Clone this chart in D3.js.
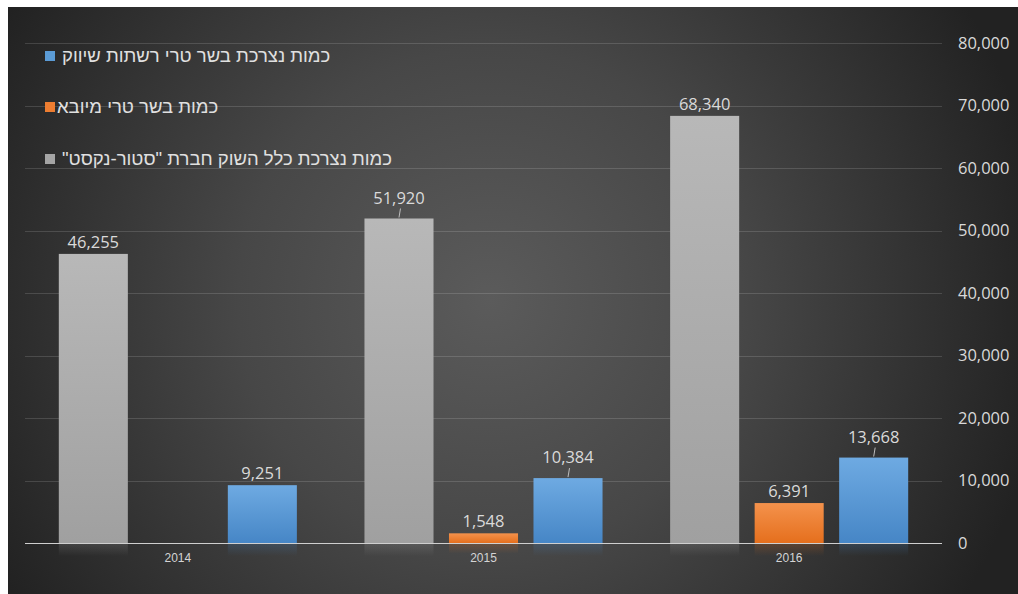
<!DOCTYPE html>
<html lang="he">
<head>
<meta charset="utf-8">
<script src="https://cdn.jsdelivr.net/npm/d3@7"></script>
<style>
  html, body { margin: 0; padding: 0; background: #ffffff; }
  svg { display: block; }
</style>
</head>
<body>
<svg id="chart" width="1018" height="594"></svg>
<script>
// Fresh meat consumption by year (tonnes)
const years = ["2014", "2015", "2016"];
const storeNextTotal = [46255, 51920, 68340];   // whole market, StoreNext
const importedMeat   = [null, 1548, 6391];      // imported fresh meat
const retailChains   = [9251, 10384, 13668];    // retail chains

const seriesNames = {
  chains:   "כמות נצרכת בשר טרי רשתות שיווק",
  imported: "כמות בשר טרי מיובא",
  total:    "כמות נצרכת כלל השוק חברת \"סטור-נקסט\""
};
const yTicks = [0, 10000, 20000, 30000, 40000, 50000, 60000, 70000, 80000];
// labels that sit a little higher with a short leader line
const leaderLabels = [["total", "2015"], ["chains", "2015"], ["chains", "2016"]];

const series = [
  { key: "total",    values: storeNextTotal, top: "#b8b8b8", bottom: "#a0a0a0", swatch: "#a5a5a5" },
  { key: "imported", values: importedMeat,   top: "#f4924c", bottom: "#e56f1d", swatch: "#ed7d31" },
  { key: "chains",   values: retailChains,   top: "#6eaae2", bottom: "#4686c6", swatch: "#5b9bd5" }
];

const W = 1018, H = 594;
const plot = { left: 25, right: 942, top: 43, bottom: 543 };
const svg = d3.select("#chart");
const defs = svg.append("defs");

// dark radial backdrop
const bg = defs.append("radialGradient").attr("id", "bg")
  .attr("gradientUnits", "userSpaceOnUse")
  .attr("cx", 490).attr("cy", 300).attr("r", 560);
bg.append("stop").attr("offset", "0%").attr("stop-color", "#5b5b5b");
bg.append("stop").attr("offset", "45%").attr("stop-color", "#474747");
bg.append("stop").attr("offset", "100%").attr("stop-color", "#222222");
svg.append("rect").attr("x", 8).attr("y", 7).attr("width", W - 8).attr("height", H - 7)
  .attr("fill", "url(#bg)");

series.forEach(s => {
  const g = defs.append("linearGradient").attr("id", "grad-" + s.key)
    .attr("x1", 0).attr("y1", 0).attr("x2", 0).attr("y2", 1);
  g.append("stop").attr("offset", "0%").attr("stop-color", s.top);
  g.append("stop").attr("offset", "100%").attr("stop-color", s.bottom);
  const r = defs.append("linearGradient").attr("id", "refl-" + s.key)
    .attr("x1", 0).attr("y1", 0).attr("x2", 0).attr("y2", 1);
  r.append("stop").attr("offset", "0%").attr("stop-color", s.bottom).attr("stop-opacity", 0.2);
  r.append("stop").attr("offset", "100%").attr("stop-color", s.bottom).attr("stop-opacity", 0);
});

const y = d3.scaleLinear().domain([0, 80000]).range([plot.bottom, plot.top]);
const x0 = d3.scaleBand().domain(years).range([plot.left, plot.right]).padding(0);
const x1 = d3.scaleBand().domain(series.map(s => s.key))
  .range([0, x0.bandwidth()]).paddingInner(0.183).paddingOuter(0.4);

// gridlines
svg.append("g").selectAll("line").data(yTicks.filter(t => t > 0)).join("line")
  .attr("x1", plot.left).attr("x2", plot.right)
  .attr("y1", d => Math.round(y(d)) + 0.5).attr("y2", d => Math.round(y(d)) + 0.5)
  .attr("stroke", "#ffffff").attr("stroke-opacity", 0.14).attr("stroke-width", 1);

// value axis on the right
const yAxis = svg.append("g")
  .attr("transform", `translate(${plot.right},0)`)
  .call(d3.axisRight(y).tickValues(yTicks).tickFormat(d3.format(",")).tickSize(0).tickPadding(16));
yAxis.select(".domain").remove();
yAxis.selectAll("text")
  .attr("fill", "#d9d9d9")
  .style("font-family", "'Open Sans', 'Noto Sans', sans-serif")
  .style("font-size", "16.5px");

// bars
const rows = [];
series.forEach(s => years.forEach((yr, i) => {
  if (s.values[i] != null) rows.push({ key: s.key, year: yr, value: s.values[i] });
}));

const barsG = svg.append("g");
// faint reflections under the baseline
barsG.selectAll("rect.refl").data(rows).join("rect").attr("class", "refl")
  .attr("x", d => x0(d.year) + x1(d.key))
  .attr("y", plot.bottom + 1)
  .attr("width", x1.bandwidth())
  .attr("height", d => Math.min(12, plot.bottom - y(d.value)))
  .attr("fill", d => `url(#refl-${d.key})`);

barsG.selectAll("rect.bar").data(rows).join("rect").attr("class", "bar")
  .attr("x", d => x0(d.year) + x1(d.key))
  .attr("y", d => y(d.value))
  .attr("width", x1.bandwidth())
  .attr("height", d => plot.bottom - y(d.value))
  .attr("fill", d => `url(#grad-${d.key})`);

// baseline
svg.append("line")
  .attr("x1", plot.left).attr("x2", plot.right)
  .attr("y1", plot.bottom + 0.5).attr("y2", plot.bottom + 0.5)
  .attr("stroke", "#cfcfcf").attr("stroke-width", 1.2);

// category axis
const xAxis = svg.append("g")
  .attr("transform", `translate(0,${plot.bottom})`)
  .call(d3.axisBottom(x0).tickSize(0).tickPadding(10));
xAxis.select(".domain").remove();
xAxis.selectAll("text")
  .attr("fill", "#d4d4d4")
  .style("font-family", "'Liberation Sans', Arial, sans-serif")
  .style("font-size", "12px");

// value labels
const hasLeader = d => leaderLabels.some(([k, yr]) => k === d.key && yr === d.year);
const labelsG = svg.append("g");
labelsG.selectAll("text").data(rows).join("text")
  .attr("x", d => x0(d.year) + x1(d.key) + x1.bandwidth() / 2)
  .attr("y", d => y(d.value) - (hasLeader(d) ? 15 : 6))
  .attr("text-anchor", "middle")
  .attr("fill", "#dadada")
  .style("font-family", "'Open Sans', 'Noto Sans', sans-serif")
  .style("font-size", "16.5px")
  .text(d => d3.format(",")(d.value));

labelsG.selectAll("line").data(rows.filter(hasLeader)).join("line")
  .attr("x1", d => x0(d.year) + x1(d.key) + x1.bandwidth() / 2 + 1.5)
  .attr("y1", d => y(d.value) - 10)
  .attr("x2", d => x0(d.year) + x1(d.key) + x1.bandwidth() / 2)
  .attr("y2", d => y(d.value) - 1)
  .attr("stroke", "#bdbdbd").attr("stroke-width", 1);

// legend (right-to-left text, swatch on the left)
const legendItems = [
  { key: "chains",   textX: 62, base: 62 },
  { key: "imported", textX: 57, base: 113 },
  { key: "total",    textX: 62, base: 165 }
];
const legend = svg.append("g");
legendItems.forEach(it => {
  const s = series.find(d => d.key === it.key);
  legend.append("rect")
    .attr("x", 45).attr("y", it.base - 11).attr("width", 10).attr("height", 10)
    .attr("fill", s.swatch);
  legend.append("text")
    .attr("x", it.textX).attr("y", it.base)
    .attr("direction", "rtl")
    .attr("text-anchor", "end")
    .attr("fill", "#e0e0e0")
    .style("font-family", "'Liberation Sans', Arial, 'DejaVu Sans', sans-serif")
    .style("font-size", "18.5px")
    .text(seriesNames[it.key]);
});
</script>
</body>
</html>
